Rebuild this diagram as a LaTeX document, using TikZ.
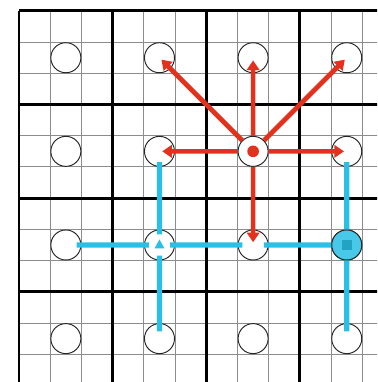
\documentclass[tikz,border=0pt]{standalone}
\usepackage{tikz}
\usetikzlibrary{arrows.meta,calc}
\definecolor{movered}{RGB}{226,50,30}
\definecolor{routecyan}{RGB}{40,192,230}
\tikzset{
  hole/.style={circle,draw=black!85,line width=0.7pt,fill=white,minimum size=7.7mm,inner sep=0pt},
  move/.style={movered,line width=3.4pt,-{Triangle[length=7pt,width=9pt]},shorten >=2pt},
  route/.style={routecyan,line width=3.8pt,shorten <=-3.5pt,shorten >=-3.5pt},
}

\begin{document}
\begin{tikzpicture}[scale=0.8]
    \clip (-0.61,0.11) rectangle (11.47,12.35);
    \fill[white] (-0.61,0.11) rectangle (11.47,12.35);
    \draw[black!45,line width=0.7pt] (0,0) grid (12,12);
    \draw[black,line width=2.1pt,step=3] (0,0) grid (12,12);

    \foreach \i in {1,...,4}
      \foreach \j in {1,...,4}
        \node[hole] (h\i\j) at (3*\i-1.5,3*\j-1.5) {};

    \draw[route] (h23) -- (h22);
    \draw[route,shorten >=-6pt] (h22) -- (h21);
    \draw[route] (h12) -- (h22);
    \draw[route] (h22) -- (h32);
    \draw[route] (h32) -- (h42);
    \draw[route] (h43) -- (h42);
    \draw[route,shorten >=-6pt] (h42) -- (h41);

    \node[hole,fill=routecyan!85] (goal) at (h42) {};
    \node[fill=routecyan!85!black,minimum size=7pt,inner sep=0pt] (goalmark) at (goal) {};
    \fill[routecyan] ($(h22)+(0,5pt)$) -- ($(h22)+(-4.5pt,-3pt)$) -- ($(h22)+(4.5pt,-3pt)$) -- cycle;

    \foreach \t in {h24,h34,h44,h23,h43,h32}
      \draw[move] (h33) -- (\t.center);
    \fill[movered] (h33) circle (5.3pt);
\end{tikzpicture}
\end{document}
